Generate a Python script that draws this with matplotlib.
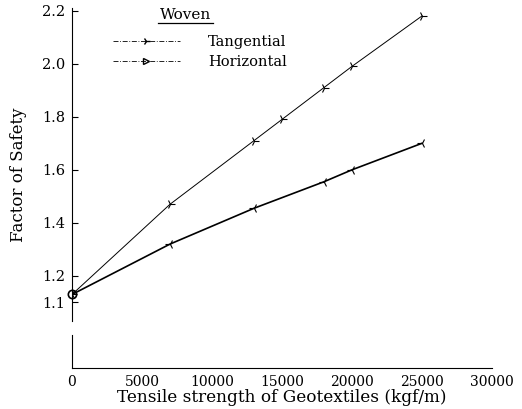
import matplotlib
matplotlib.use("Agg")
import matplotlib.pyplot as plt
from matplotlib.lines import Line2D

plt.rcParams['font.family'] = ['DejaVu Serif']

# Data
tang_x = [0, 7000, 13000, 15000, 18000, 20000, 25000]
tang_y = [1.13, 1.47, 1.71, 1.79, 1.91, 1.99, 2.18]
horiz_x = [0, 7000, 13000, 18000, 20000, 25000]
horiz_y = [1.13, 1.32, 1.455, 1.555, 1.60, 1.70]
yticks = [1.1, 1.2, 1.4, 1.6, 1.8, 2.0, 2.2]
xticks = [0, 5000, 10000, 15000, 20000, 25000, 30000]

W, H = 522, 409
fig = plt.figure(figsize=(W / 100, H / 100), dpi=100)

def rect(l, t, r, b):
    return [l / W, 1 - b / H, (r - l) / W, (b - t) / H]

ax = fig.add_axes(rect(72, 8, 492, 321))
axb = fig.add_axes(rect(72, 335, 492, 368))

ax.plot(tang_x, tang_y, color='black', lw=0.7, marker='4', ms=7, mew=0.8)
ax.plot(horiz_x, horiz_y, color='black', lw=1.2, marker='3', ms=7, mew=0.8)
ax.plot([0], [1.13], marker='o', ms=6, mfc='none', mec='black', mew=1.2, clip_on=False)

ax.set_xlim(0, 30000)
ax.set_ylim(1.03, 2.21)
ax.set_yticks(yticks)
ax.set_yticklabels([f"{v:.1f}" for v in yticks], fontsize=10.5)
ax.tick_params(axis='y', direction='in', length=4, width=0.8, pad=5)
ax.set_xticks([])
for s in ['top', 'right', 'bottom']:
    ax.spines[s].set_visible(False)
ax.spines['left'].set_linewidth(0.8)
ax.patch.set_alpha(0)

ax.set_ylabel('Factor of Safety', fontsize=12)
ax.yaxis.set_label_coords(-0.108, 0.466)

handles = [
    Line2D([], [], color='black', lw=0.6, ls=(0, (6, 2, 1, 2)), marker='4', ms=6, markevery=[1]),
    Line2D([], [], color='black', lw=0.6, ls=(0, (6, 2, 1, 2)), marker='>', mfc='none', ms=5, markevery=[0, 1]),
]
leg = ax.legend(handles, ['Tangential', 'Horizontal'], loc='upper left',
                bbox_to_anchor=(0.066, 0.955), frameon=False, fontsize=10.5,
                handlelength=4.6, handletextpad=1.95, labelspacing=0.42)

title = ax.text(0.271, 0.978, 'Woven', transform=ax.transAxes, fontsize=11,
                ha='center', va='center')

axb.set_xlim(0, 30000)
axb.set_ylim(0, 1)
axb.set_yticks([])
axb.set_xticks(xticks)
axb.set_xticklabels([str(v) for v in xticks], fontsize=10)
axb.tick_params(axis='x', length=0, pad=5)
for s in ['top', 'right']:
    axb.spines[s].set_visible(False)
axb.spines['left'].set_linewidth(0.8)
axb.spines['bottom'].set_linewidth(0.8)
axb.spines['bottom'].set_linestyle((0, (6, 1)))
axb.patch.set_alpha(0)
axb.set_xlabel('Tensile strength of Geotextiles (kgf/m)', fontsize=12.2, labelpad=0)

# underline the legend title
fig.canvas.draw()
bb = title.get_window_extent(fig.canvas.get_renderer())
inv = fig.transFigure.inverted()
(x0, y0), (x1, _) = inv.transform([(bb.x0 - 2, bb.y0 - 1), (bb.x1 + 2, bb.y0 - 1)])
fig.add_artist(Line2D([x0, x1], [y0, y0], color='black', lw=0.9, transform=fig.transFigure))

fig.savefig('out.png', dpi=100)
